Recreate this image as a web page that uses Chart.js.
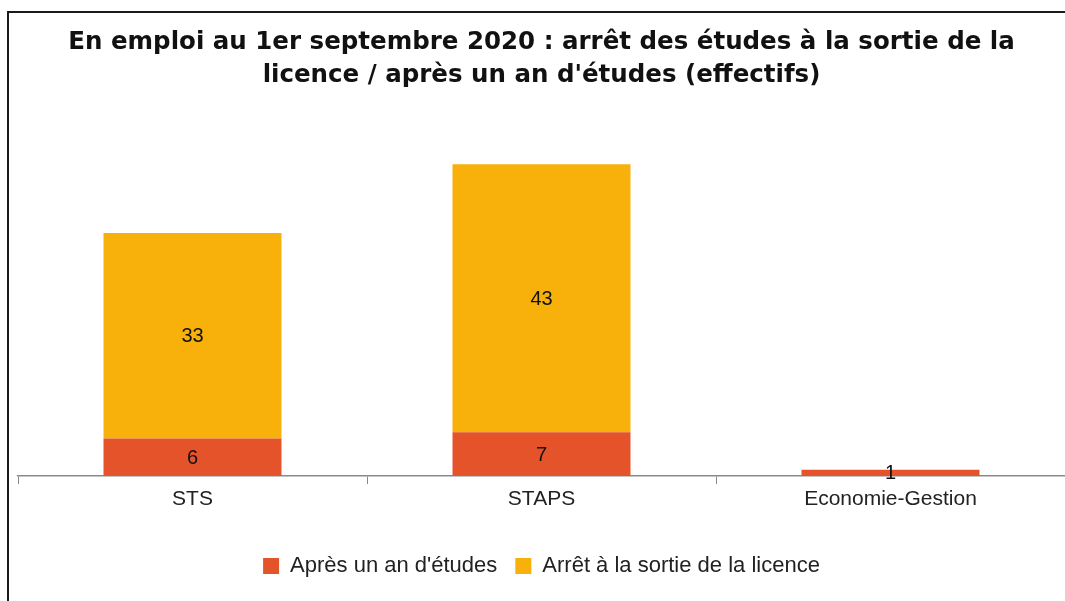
<!DOCTYPE html>
<html>
<head>
<meta charset="utf-8">
<script src="https://cdn.jsdelivr.net/npm/chart.js@4/dist/chart.umd.min.js"></script>
<style>
  html, body { margin: 0; padding: 0; background: #fff; overflow: hidden; }
  #wrap { position: relative; width: 1065px; height: 601px; }
  #frame {
    position: absolute; left: 7px; top: 11px; width: 1100px; height: 700px;
    border: 2px solid #1a1a1a; box-sizing: border-box; pointer-events: none;
  }
  canvas { position: absolute; left: 0; top: 0; }
</style>
</head>
<body>
<div id="wrap">
  <canvas id="chart" width="1065" height="601"></canvas>
  <div id="frame"></div>
</div>
<script>
  const categories = ["STS", "STAPS", "Economie-Gestion"];
  const apresUnAn = [6, 7, 1];
  const arretLicence = [33, 43, 0];
  const titleLines = [
    "En emploi au 1er septembre 2020 : arrêt des études à la sortie de la",
    "licence / après un an d'études (effectifs)"
  ];

  // value written in the middle of each bar segment
  const valueLabels = {
    id: "valueLabels",
    afterDatasetsDraw(chart) {
      const ctx = chart.ctx;
      ctx.save();
      ctx.font = "20px 'Liberation Sans'";
      ctx.fillStyle = "#111";
      ctx.textAlign = "center";
      ctx.textBaseline = "middle";
      chart.data.datasets.forEach((ds, di) => {
        chart.getDatasetMeta(di).data.forEach((bar, i) => {
          const v = ds.data[i];
          if (!v) return;
          const p = bar.getCenterPoint();
          ctx.fillText(String(v), p.x, p.y + 1);
        });
      });
      ctx.restore();
    }
  };

  new Chart(document.getElementById("chart"), {
    type: "bar",
    data: {
      labels: categories,
      datasets: [
        {
          label: "Après un an d'études",
          data: apresUnAn,
          backgroundColor: "#E4532A",
          borderWidth: 0
        },
        {
          label: "Arrêt à la sortie de la licence",
          data: arretLicence,
          backgroundColor: "#F8B10A",
          borderWidth: 0
        }
      ]
    },
    options: {
      responsive: false,
      animation: false,
      layout: { padding: { left: 18, right: 0, top: 0, bottom: 14 } },
      datasets: {
        bar: { categoryPercentage: 1, barPercentage: 0.51 }
      },
      plugins: {
        title: {
          display: true,
          text: titleLines,
          color: "#111",
          font: { family: "'DejaVu Sans'", weight: "bold", size: 24.5, lineHeight: 1.347 },
          padding: { top: 26, bottom: 10 }
        },
        legend: {
          position: "bottom",
          labels: {
            boxWidth: 16,
            boxHeight: 16,
            padding: 18,
            color: "#222",
            font: { family: "'Liberation Sans'", size: 22 }
          }
        },
        tooltip: { enabled: false }
      },
      scales: {
        x: {
          stacked: true,
          afterFit: (scale) => { scale.height = 61; },
          grid: {
            drawOnChartArea: false,
            drawTicks: true,
            tickLength: 8,
            color: "#8a8a8a"
          },
          border: { display: true, color: "#8a8a8a", width: 1.5 },
          ticks: {
            padding: 3,
            color: "#222",
            font: { family: "'Liberation Sans'", size: 21 }
          }
        },
        y: {
          stacked: true,
          display: false,
          min: 0,
          max: 60
        }
      }
    },
    plugins: [valueLabels]
  });
</script>
</body>
</html>
